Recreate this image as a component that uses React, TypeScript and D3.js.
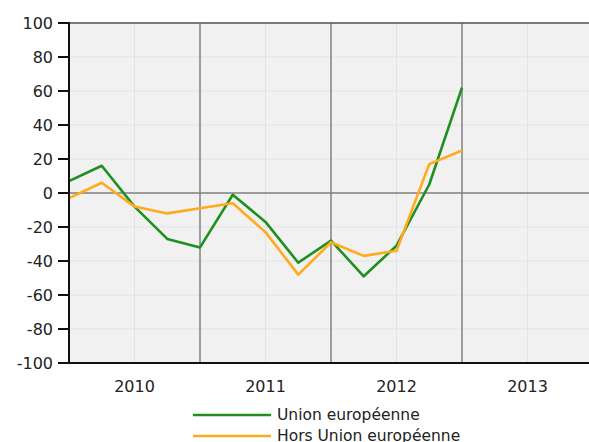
import React from "react";
import * as d3 from "d3";

const years = ["2010", "2011", "2012", "2013"];
const yTicks = [100, 80, 60, 40, 20, 0, -20, -40, -60, -80, -100];
// quarterly values, 2010 Q1 .. 2013 Q1
const unionEuropeenne = [7, 16, -8, -27, -32, -1, -17, -41, -28, -49, -31, 5, 62];
const horsUnion = [-3, 6, -8, -12, -9, -6, -23, -48, -29, -37, -34, 17, 25];

const series = [
  { name: "Union européenne", values: unionEuropeenne, color: "#1f8f1f" },
  { name: "Hors Union européenne", values: horsUnion, color: "#ffab1c" },
];

export default function App() {
  const width = 589;
  const height = 442;
  const left = 69;
  const top = 23;
  const bottom = 363;
  const right = 593; // plot runs off the right edge

  const x = d3.scaleLinear().domain([0, 16]).range([left, right]);
  const y = d3.scaleLinear().domain([-100, 100]).range([bottom, top]);

  const line = d3
    .line<number>()
    .x((_, i) => x(i))
    .y((d) => y(d));

  const font = "'DejaVu Sans', Verdana, sans-serif";

  return (
    <svg
      width={width}
      height={height}
      style={{ position: "absolute", left: 0, top: 0 }}
      fontFamily={font}
    >
      <rect x={left} y={top} width={right - left} height={bottom - top} fill="#f1f1f1" />
      {/* minor grid */}
      <g stroke="#e3e3e3" strokeWidth={1}>
        {yTicks.map((t) => (
          <line key={`gy-${t}`} x1={left} x2={right} y1={y(t)} y2={y(t)} />
        ))}
        {years.map((yr, i) => (
          <line key={`gx-${yr}`} x1={x(i * 4 + 2)} x2={x(i * 4 + 2)} y1={top} y2={bottom} />
        ))}
      </g>
      {/* major grid */}
      <g stroke="#808080" strokeWidth={1.5}>
        {[1, 2, 3].map((i) => (
          <line key={`mx-${i}`} x1={x(i * 4)} x2={x(i * 4)} y1={top} y2={bottom} />
        ))}
        <line x1={left} x2={right} y1={y(0)} y2={y(0)} />
        <line x1={left} x2={right} y1={top} y2={top} stroke="#555" />
      </g>
      {series.map((s) => (
        <path
          key={s.name}
          d={line(s.values) ?? ""}
          fill="none"
          stroke={s.color}
          strokeWidth={2.6}
          strokeLinejoin="round"
        />
      ))}
      {/* axes */}
      <g stroke="#111" strokeWidth={2}>
        <line x1={left} x2={left} y1={top - 1} y2={bottom + 1} />
        <line x1={left - 1} x2={right} y1={bottom} y2={bottom} />
        {yTicks.map((t) => (
          <line key={`tk-${t}`} x1={58} x2={left} y1={y(t)} y2={y(t)} />
        ))}
      </g>
      <g fontSize={16} fill="#222" textAnchor="end">
        {yTicks.map((t) => (
          <text key={`ty-${t}`} x={53} y={y(t)} dy="0.36em">
            {t}
          </text>
        ))}
      </g>
      <g fontSize={16} fill="#222" textAnchor="middle">
        {years.map((yr, i) => (
          <text key={`tx-${yr}`} x={x(i * 4 + 2)} y={392}>
            {yr}
          </text>
        ))}
      </g>
      {/* legend */}
      {series.map((s, i) => (
        <g key={`lg-${s.name}`}>
          <line x1={193} x2={271} y1={415 + i * 21} y2={415 + i * 21} stroke={s.color} strokeWidth={2.6} />
          <text x={277} y={420 + i * 21} fontSize={15.5} fill="#222">
            {s.name}
          </text>
        </g>
      ))}
    </svg>
  );
}
